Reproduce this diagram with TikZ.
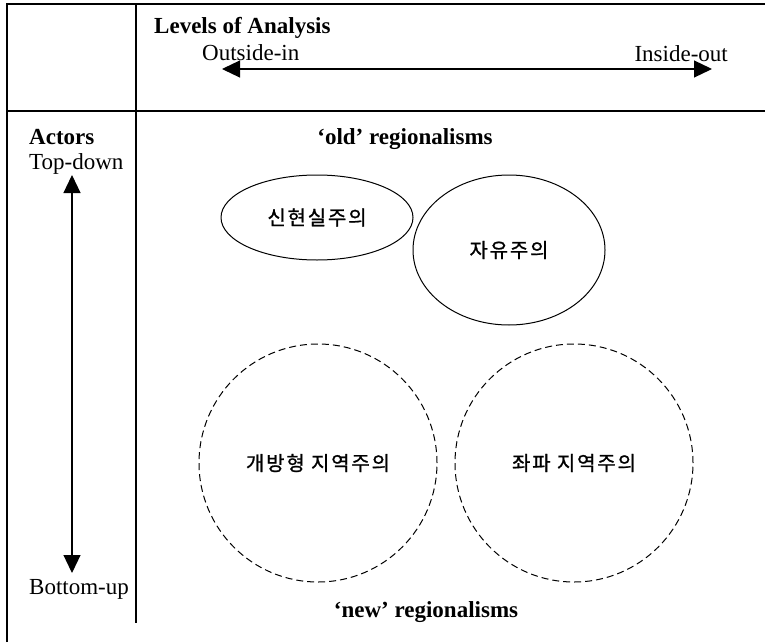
\documentclass[tikz,border=0pt]{standalone}
\usepackage{fontspec}
\setmainfont{Liberation Serif}
\newfontfamily\kor[LetterSpace=9,FakeBold=1]{Noto Sans CJK KR}
\usetikzlibrary{arrows.meta,shapes.geometric}
\begin{document}
\begin{tikzpicture}[x=1pt,y=-1pt,
  lbl/.style={font=\fontsize{23}{26}\selectfont, inner sep=0pt},
  hd/.style={font=\fontsize{23}{26}\selectfont\bfseries, inner sep=0pt},
  kr/.style={font=\kor\fontsize{20}{22}\selectfont, inner sep=0pt, line width=1pt},
  dir/.style={{Triangle[length=18pt,width=17pt]}-{Triangle[length=18pt,width=17pt]}, line width=1.2pt},
  newreg/.style={kr, draw, circle, minimum size=238pt, dash pattern=on 7pt off 4pt}]
\useasboundingbox (0,0) rectangle (765,642);
% frame
\draw[line width=1.5pt] (7,642) -- (7,4) -- (765,4);
\draw[line width=1.5pt] (7,111) -- (765,111);
\draw[line width=1.2pt] (136,4) -- (136,623);
% levels of analysis
\node[hd, anchor=base west] (levels) at (154,34) {Levels of Analysis};
\node[lbl, anchor=base west] (outin) at (202,60) {Outside-in};
\node[lbl, anchor=base east] (inout) at (728,61) {Inside-out};
\coordinate (outer) at (222,69);
\coordinate (inner) at (712,69);
\draw[dir] (outer) -- (inner);
% actors
\node[hd, anchor=base west] (actors) at (29,144) {Actors};
\node[lbl, anchor=base west] (topdown) at (29,169) {Top-down};
\node[lbl, anchor=base west] (bottomup) at (29,594) {Bottom-up};
\coordinate (top) at (72,175);
\coordinate (bottom) at (72,573);
\draw[dir] (top) -- (bottom);
% regionalisms
\node[hd, anchor=base] (oldlbl) at (405,144) {`old' regionalisms};
\node[hd, anchor=base] (newlbl) at (426,617) {`new' regionalisms};
\node[kr, draw, ellipse, minimum width=192pt, minimum height=85pt] (neoreal) at (317,217.5) {신현실주의};
\node[kr, draw, ellipse, minimum width=192pt, minimum height=150pt] (liberal) at (509,250) {자유주의};
\node[newreg] (openreg) at (318,463) {개방형 지역주의};
\node[newreg] (leftreg) at (574,463) {좌파 지역주의};
\end{tikzpicture}
\end{document}
